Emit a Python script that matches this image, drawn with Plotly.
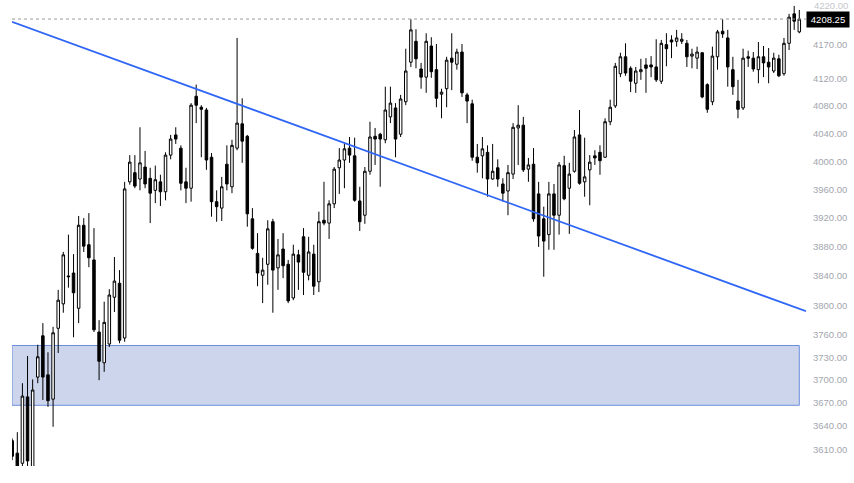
import math
import plotly.graph_objects as go

# ---- OHLC data (bar index 0..154) ----
OPEN = [3621, 3605, 3592, 3678, 3583, 3704, 3759, 3707, 3675, 3769,
        3802, 3840, 3844, 3796, 3910, 3883, 3862, 3764, 3723, 3748,
        3811, 3830, 3756, 3971, 3984, 3975, 3992, 3976, 3959, 3971,
        3957, 4009, 4038, 4019, 3971, 3962, 4094, 4078, 4074, 4006,
        3943, 3934, 3996, 3964, 4019, 4054, 4036, 3919, 3871, 3841,
        3856, 3915, 3851, 3877, 3856, 3810, 3869, 3894, 3841, 3870,
        3832, 3917, 3913, 3940, 3991, 4002, 4019, 4008, 3944, 3924,
        3986, 4036, 4039, 4031, 4064, 4077, 4039, 4086, 4144, 4175,
        4134, 4122, 4168, 4133, 4097, 4105, 4150, 4141, 4159, 4096,
        4083, 4006, 4008, 4013, 3975, 3991, 3968, 3958, 3982, 4048,
        4052, 3989, 3996, 3954, 3919, 3897, 3954, 3924, 3994, 3962,
        3986, 4038, 3971, 3988, 4008, 4013, 4006, 4057, 4080, 4127,
        4152, 4135, 4113, 4130, 4140, 4140, 4137, 4116, 4170, 4177,
        4175, 4175, 4172, 4153, 4150, 4158, 4111, 4086, 4152, 4190,
        4180, 4133, 4087, 4077, 4152, 4150, 4133, 4152, 4144, 4131,
        4149, 4127, 4172, 4216, 4189]
HIGH = [3624, 3632, 3696, 3732, 3701, 3747, 3776, 3737, 3771, 3821,
        3873, 3897, 3870, 3923, 3920, 3927, 3906, 3780, 3805, 3822,
        3866, 3848, 3971, 4009, 4009, 4049, 4015, 3991, 3994, 3981,
        4013, 4038, 4049, 4023, 3991, 4084, 4111, 4081, 4077, 4012,
        3959, 3978, 4023, 4031, 4180, 4091, 4038, 3934, 3899, 3865,
        3917, 3919, 3891, 3899, 3862, 3883, 3876, 3906, 3894, 3883,
        3929, 3971, 3945, 3992, 4019, 4026, 4035, 4034, 3964, 3992,
        4057, 4048, 4041, 4108, 4108, 4084, 4096, 4164, 4208, 4193,
        4143, 4187, 4181, 4171, 4105, 4152, 4187, 4164, 4171, 4099,
        4089, 4025, 4035, 4023, 4025, 4003, 3976, 3995, 4055, 4081,
        4064, 4005, 4019, 3971, 3936, 3971, 3968, 3999, 4008, 3998,
        4045, 4074, 4034, 4009, 4016, 4023, 4062, 4089, 4143, 4158,
        4172, 4138, 4137, 4149, 4150, 4153, 4178, 4177, 4187, 4184,
        4192, 4187, 4177, 4164, 4167, 4159, 4113, 4167, 4192, 4208,
        4192, 4152, 4118, 4164, 4161, 4159, 4174, 4168, 4165, 4158,
        4155, 4180, 4216, 4228, 4222]
LOW = [3596, 3577, 3581, 3586, 3576, 3696, 3674, 3665, 3639, 3736,
       3790, 3824, 3757, 3776, 3873, 3852, 3764, 3700, 3711, 3744,
       3791, 3749, 3751, 3967, 3962, 3959, 3962, 3913, 3941, 3937,
       3945, 4003, 4025, 3959, 3941, 3943, 4055, 4006, 3988, 3922,
       3915, 3916, 3959, 3955, 4016, 3998, 3908, 3876, 3826, 3803,
       3828, 3790, 3821, 3837, 3803, 3807, 3821, 3814, 3834, 3814,
       3818, 3910, 3891, 3934, 3954, 3962, 3998, 3943, 3902, 3912,
       3981, 3995, 3964, 4026, 4055, 4006, 4035, 4081, 4137, 4135,
       4105, 4099, 4121, 4078, 4062, 4078, 4103, 4133, 4093, 4055,
       4001, 3984, 3976, 3950, 3974, 3964, 3943, 3924, 3975, 3995,
       3985, 3971, 3915, 3880, 3839, 3876, 3876, 3897, 3945, 3898,
       3984, 3967, 3950, 3938, 3995, 3981, 4005, 4052, 4077, 4122,
       4124, 4100, 4099, 4118, 4099, 4122, 4115, 4112, 4138, 4150,
       4167, 4171, 4137, 4135, 4134, 4091, 4070, 4081, 4133, 4180,
       4108, 4096, 4062, 4074, 4137, 4130, 4113, 4122, 4113, 4128,
       4122, 4124, 4162, 4192, 4187]
CLOSE = [3601, 3586, 3679, 3595, 3687, 3731, 3704, 3673, 3763, 3807,
         3869, 3839, 3817, 3910, 3881, 3865, 3767, 3725, 3777, 3814,
         3833, 3753, 3961, 3999, 3965, 3998, 3968, 3955, 3974, 3957,
         4009, 4032, 4032, 3969, 3962, 4081, 4081, 4075, 4002, 3943,
         3936, 3964, 3968, 4023, 4055, 4029, 3926, 3878, 3844, 3848,
         3905, 3848, 3869, 3854, 3806, 3870, 3859, 3845, 3873, 3826,
         3915, 3913, 3940, 3989, 4002, 4018, 4009, 3945, 3915, 3986,
         4035, 4032, 4032, 4074, 4084, 4032, 4090, 4131, 4192, 4149,
         4122, 4175, 4130, 4091, 4100, 4147, 4144, 4159, 4099, 4087,
         4006, 3998, 4018, 3975, 3986, 3975, 3955, 3984, 4049, 4052,
         3988, 3995, 3919, 3895, 3888, 3954, 3924, 3995, 3947, 3982,
         4035, 3969, 3978, 3999, 4005, 4001, 4057, 4078, 4138, 4152,
         4128, 4116, 4131, 4133, 4135, 4137, 4118, 4172, 4164, 4174,
         4180, 4178, 4152, 4156, 4159, 4093, 4075, 4153, 4189, 4186,
         4137, 4108, 4075, 4150, 4150, 4134, 4152, 4143, 4137, 4150,
         4124, 4172, 4211, 4205, 4208.25]
BARS = list(range(len(CLOSE)))

# ---- drawings ----
TREND_X = [-0.04, 155.31]          # bar index at both ends
TREND_Y = [4204, 3792]             # price at both ends
ZONE_X = [-0.04, 154]              # bar index span
ZONE_Y = [3667, 3746]              # bottom / top price

# ---- price axis ----
TICK_VALS = [3610, 3640, 3670, 3700, 3730, 3760, 3800, 3840, 3880, 3920,
             3960, 4000, 4040, 4080, 4120, 4170]
TOP_TICK = 4220                    # drawn at the pane's top edge, as in the reference
TICK_TEXT = [f"{v:.2f}" for v in TICK_VALS]
Y_MIN, Y_MAX = 3588.5, 4236.9
X_MIN, X_MAX = -0.04, 155.31

LAST = CLOSE[-1]

LOG_MIN, LOG_MAX = math.log10(Y_MIN), math.log10(Y_MAX)
PLOT_H = 483 - 17


def price_to_paper(p):
    """Fraction of plot height for a price on the log axis."""
    return (math.log10(p) - LOG_MIN) / (LOG_MAX - LOG_MIN)


fig = go.Figure()

# last price dotted line
fig.add_trace(go.Scatter(
    x=[X_MIN, X_MAX], y=[LAST, LAST], mode="lines",
    line=dict(color="#9a9a9a", width=1, dash="dot"),
    hoverinfo="skip", showlegend=False))

fig.add_trace(go.Candlestick(
    x=BARS, open=OPEN, high=HIGH, low=LOW, close=CLOSE,
    increasing=dict(line=dict(color="#000000", width=1), fillcolor="#ffffff"),
    decreasing=dict(line=dict(color="#000000", width=1), fillcolor="#000000"),
    whiskerwidth=0, hoverinfo="skip", showlegend=False))

# trend line
fig.add_trace(go.Scatter(
    x=TREND_X, y=TREND_Y, mode="lines",
    line=dict(color="#2f66f5", width=1.8),
    hoverinfo="skip", showlegend=False))

# zone rectangle, beneath the candles
fig.add_shape(
    type="rect", layer="below",
    xref="x", x0=ZONE_X[0], x1=ZONE_X[1],
    yref="paper", y0=price_to_paper(ZONE_Y[0]), y1=price_to_paper(ZONE_Y[1]),
    fillcolor="rgb(204,213,236)", line=dict(color="#6b8fdc", width=1))

fig.update_layout(
    width=854, height=483,
    margin=dict(l=12, r=48, t=0, b=17, autoexpand=False),
    paper_bgcolor="white", plot_bgcolor="white",
    font=dict(family="Liberation Sans, Arial, sans-serif", size=10, color="#a3a6ae"),
    showlegend=False,
    xaxis=dict(range=[X_MIN, X_MAX], visible=False, rangeslider=dict(visible=False),
               fixedrange=True, automargin=False),
    yaxis=dict(type="log", side="right", automargin=False,
               range=[LOG_MIN, LOG_MAX],
               tickvals=TICK_VALS, ticktext=TICK_TEXT,
               showgrid=False, zeroline=False, showline=False, ticks="",
               ticklabelstandoff=6,
               tickfont=dict(size=9.5, color="#a3a6ae")),
    annotations=[
        dict(x=1, xref="paper", xanchor="left", xshift=6,
             y=1 - 5.5 / PLOT_H, yref="paper", yanchor="middle",
             text=f"{TOP_TICK:.2f}", showarrow=False,
             font=dict(color="#c4c6cc", size=9.5)),
        dict(x=1, xref="paper", xanchor="left",
             y=math.log10(LAST), yref="y", yanchor="middle",
             text=f"{LAST:.2f}", showarrow=False,
             bgcolor="#000000", font=dict(color="#ffffff", size=9.5),
             width=42, height=15, borderpad=0),
    ],
)

fig.write_html(
    "out.html",
    config={"displayModeBar": False},
    post_script="document.body.style.margin='0';document.body.style.overflow='hidden';",
)
